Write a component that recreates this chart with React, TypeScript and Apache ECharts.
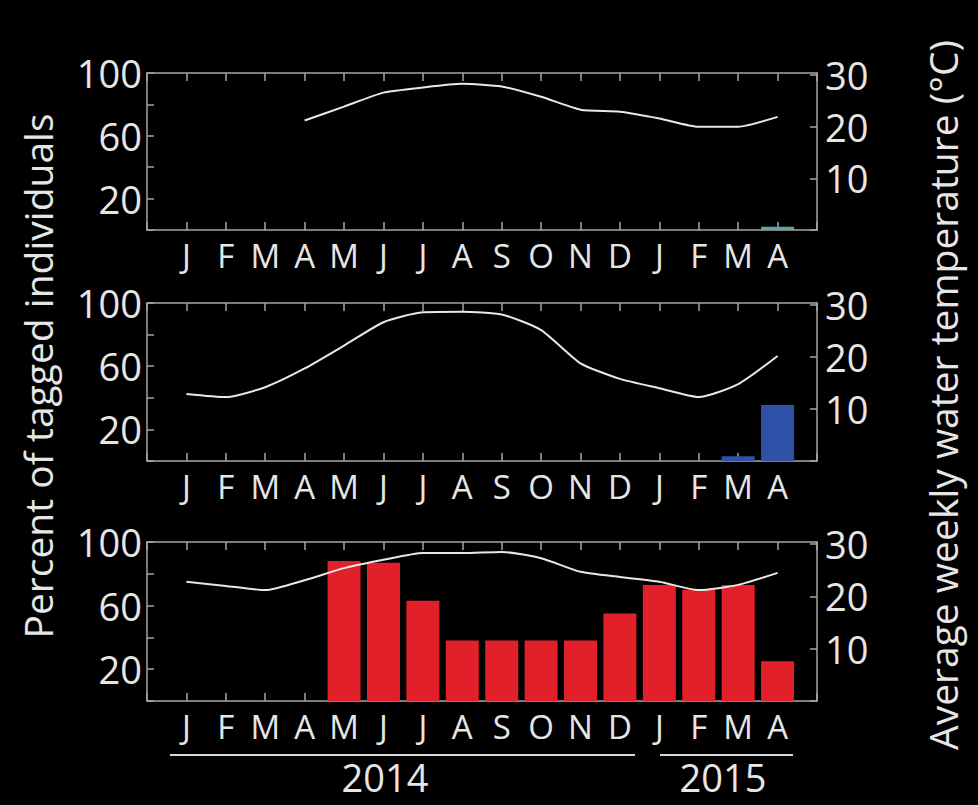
import React, { useEffect, useRef } from 'react';
import * as echarts from 'echarts';

const months = ['J', 'F', 'M', 'A', 'M', 'J', 'J', 'A', 'S', 'O', 'N', 'D', 'J', 'F', 'M', 'A'];
const percentLabels = [20, 60, 100];
const tempLabels = [10, 20, 30];
const years = ['2014', '2015'];

// Percent of tagged individuals per month (bars)
const tagged1 = [0, 0, 0, 0, 0, 0, 0, 0, 0, 0, 0, 0, 0, 0, 0, 2];
const tagged2 = [0, 0, 0, 0, 0, 0, 0, 0, 0, 0, 0, 0, 0, 0, 3, 35.5];
const tagged3 = [0, 0, 0, 0, 88, 87, 63, 38, 38, 38, 38, 55, 73, 70, 73, 25];

// Average weekly water temperature (lines)
const temp1 = [null, null, null, 21.2, 23.9, 26.6, 27.6, 28.3, 27.8, 25.8, 23.3, 22.9, 21.6, 20.0, 20.0, 21.9];
const temp2 = [12.9, 12.3, 14.2, 17.8, 22.2, 26.7, 28.6, 28.7, 28.2, 25.2, 18.8, 15.8, 14.0, 12.3, 14.8, 20.2];
const temp3 = [22.8, 22.0, 21.2, 23.1, 25.4, 27.0, 28.3, 28.3, 28.5, 27.3, 24.7, 23.7, 22.8, 21.2, 22.2, 24.5];

const FONT = '"Open Sans", "Noto Sans", sans-serif';
const TEXT = '#e6e6e6';
const AXIS = '#a6a6a6';

export default function App() {
  const ref = useRef<HTMLDivElement>(null);

  useEffect(() => {
    if (!ref.current) return;
    const chart = echarts.init(ref.current, null, { renderer: 'svg' });
    const pos = months.map((_, i) => i + 1);
    const panels = [
      { top: 73, height: 157, bars: tagged1, temp: temp1, color: '#5fa6a2' },
      { top: 303, height: 158, bars: tagged2, temp: temp2, color: '#2f51a8' },
      { top: 542, height: 159, bars: tagged3, temp: temp3, color: '#e2202a' },
    ];
    const lineStyle = { color: AXIS, width: 1.5 };
    const grid: any[] = [];
    const xAxis: any[] = [];
    const yAxis: any[] = [];
    const series: any[] = [];
    panels.forEach((p, i) => {
      grid.push({ left: 147, width: 670, top: p.top, height: p.height });
      xAxis.push({
        type: 'value', gridIndex: i, min: 0, max: 17, interval: 1, position: 'bottom',
        axisLine: { show: true, onZero: false, lineStyle },
        axisTick: { show: true, inside: true, length: 8, lineStyle },
        axisLabel: {
          formatter: (v: number) => months[v - 1] ?? '',
          color: TEXT, fontSize: 33, margin: 9, fontFamily: FONT,
          showMinLabel: true, showMaxLabel: true,
        },
        splitLine: { show: false },
      });
      xAxis.push({
        type: 'value', gridIndex: i, min: 0, max: 17, interval: 1, position: 'top',
        axisLine: { show: true, onZero: false, lineStyle },
        axisTick: { show: true, inside: true, length: 8, lineStyle },
        axisLabel: { show: false },
        splitLine: { show: false },
      });
      yAxis.push({
        type: 'value', gridIndex: i, min: 0, max: 100, interval: 20, position: 'left',
        axisLine: { show: true, onZero: false, lineStyle },
        axisTick: { show: true, inside: true, length: 7, lineStyle },
        axisLabel: {
          formatter: (v: number) => (percentLabels.includes(v) ? String(v) : ''),
          color: TEXT, fontSize: 38, margin: 5, fontFamily: FONT,
        },
        splitLine: { show: false },
      });
      yAxis.push({
        type: 'value', gridIndex: i, min: 0, max: 30.4, interval: 10, position: 'right',
        axisLine: { show: true, onZero: false, lineStyle },
        axisTick: { show: true, inside: true, length: 7, lineStyle },
        axisLabel: {
          formatter: (v: number) => (tempLabels.includes(v) ? String(v) : ''),
          color: TEXT, fontSize: 38, margin: 8, fontFamily: FONT,
          showMaxLabel: false,
        },
        splitLine: { show: false },
      });
      series.push({
        type: 'bar', xAxisIndex: 2 * i, yAxisIndex: 2 * i,
        data: pos.map((x, k) => [x, p.bars[k]]),
        barWidth: 33,
        itemStyle: { color: p.color },
        z: 2,
      });
      series.push({
        type: 'line', xAxisIndex: 2 * i, yAxisIndex: 2 * i + 1,
        data: pos.map((x, k) => [x, p.temp[k]]).filter((d) => d[1] !== null),
        symbol: 'none', smooth: 0.2,
        lineStyle: { color: '#e8e8e8', width: 2 },
        z: 3,
      });
    });

    const centered = { textAlign: 'center', textVerticalAlign: 'middle', align: 'center', verticalAlign: 'middle' };

    chart.setOption({
      animation: false,
      backgroundColor: '#000000',
      grid, xAxis, yAxis, series,
      graphic: [
        {
          type: 'text', x: 37, y: 376, rotation: Math.PI / 2,
          style: {
            text: 'Percent of tagged individuals', fill: TEXT, fontSize: 39, fontFamily: FONT,
            lineHeight: 44, ...centered,
          },
        },
        {
          type: 'text', x: 942, y: 395, rotation: Math.PI / 2,
          style: {
            text: 'Average weekly water temperature (°C)', fill: TEXT, fontSize: 39, fontFamily: FONT,
            lineHeight: 44, ...centered,
          },
        },
        { type: 'line', shape: { x1: 170, y1: 755, x2: 635, y2: 755 }, style: { stroke: '#d8d8d8', lineWidth: 2 } },
        { type: 'line', shape: { x1: 660, y1: 755, x2: 793, y2: 755 }, style: { stroke: '#d8d8d8', lineWidth: 2 } },
        {
          type: 'text', x: 385, y: 777,
          style: {
            text: years[0], fill: TEXT, fontSize: 38, fontFamily: FONT, lineHeight: 38, ...centered,
          },
        },
        {
          type: 'text', x: 723, y: 777,
          style: {
            text: years[1], fill: TEXT, fontSize: 38, fontFamily: FONT, lineHeight: 38, ...centered,
          },
        },
      ],
    });
    return () => chart.dispose();
  }, []);

  return (
    <div
      ref={ref}
      style={{ position: 'absolute', left: 0, top: 0, width: 978, height: 805, background: '#000' }}
    />
  );
}
